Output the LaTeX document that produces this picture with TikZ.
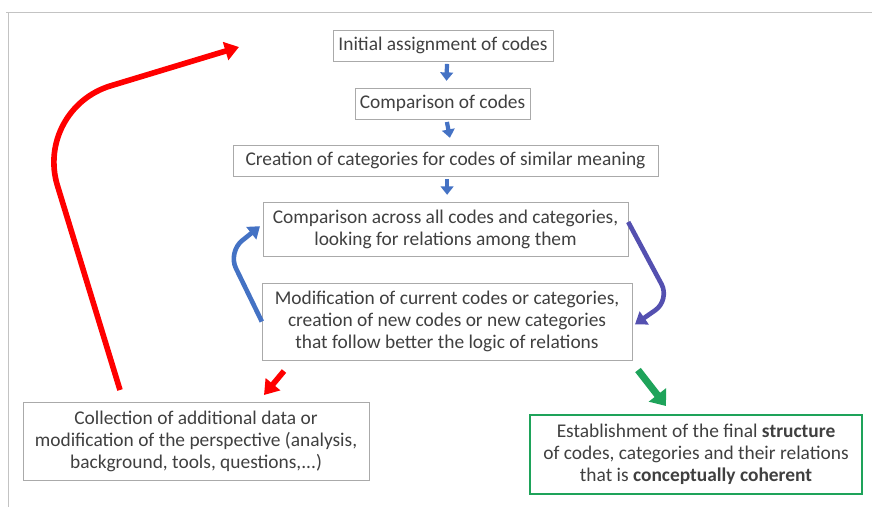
\documentclass[tikz,border=0pt]{standalone}
\usepackage{fontspec}
\setmainfont{Carlito}
\usepackage{tikz}
\usetikzlibrary{arrows.meta}

\definecolor{txtgray}{RGB}{64,64,64}
\definecolor{boxgray}{RGB}{170,170,170}
\definecolor{framegray}{RGB}{195,195,195}
\definecolor{loopblue}{RGB}{68,114,196}
\definecolor{loopviolet}{RGB}{84,80,176}
\definecolor{endgreen}{RGB}{30,163,90}

\tikzset{
    stepbox/.style={draw=boxgray, very thin, fill=white, text=txtgray, align=center,
        inner sep=2pt, font=\fontsize{13.8}{15.6}\selectfont},
    downarrow/.style={loopblue, line width=3pt, -{Triangle[width=9pt, length=6pt]}},
    looparrow/.style={line width=3.3pt, rounded corners=0.45cm, -{Triangle[width=11pt, length=8pt]}},
    bigarrow/.style={line width=4pt, -{Triangle[width=13pt, length=10pt]}}
}

\begin{document}
\begin{tikzpicture}[thick, x=0.025cm, y=-0.025cm]
    \useasboundingbox (0, 0) rectangle (872, 507);

    % frame
    \draw[framegray, thin] (6, 12) -- (872, 12);
    \draw[framegray, thin] (8, 12) -- (8, 507);

    % boxes
    \node[stepbox, minimum width=5.5cm, minimum height=0.775cm] (init) at (443, 45.5) {Initial assignment of codes};
    \node[stepbox, minimum width=4.375cm, minimum height=0.775cm] (comp) at (442.5, 103.5) {Comparison of codes};
    \node[stepbox, minimum width=10.625cm, minimum height=0.775cm] (cat) at (445.5, 160.5) {Creation of categories for codes of similar meaning};
    \node[stepbox, minimum width=9.125cm, minimum height=1.35cm] (across) at (445.5, 229) {Comparison across all codes and categories,\\ looking for relations among them};
    \node[stepbox, minimum width=9.25cm, minimum height=1.925cm] (modif) at (447, 321.5) {Modification of current codes or categories,\\ creation of new codes or new categories\\ that follow better the logic of relations};
    \node[stepbox, minimum width=8.65cm, minimum height=1.95cm] (collect) at (196, 441) {Collection of additional data or\\ modification of the perspective (analysis,\\ background, tools, questions,...)};
    \node[stepbox, draw=endgreen, line width=1.3pt, minimum width=8.3cm, minimum height=1.975cm] (final) at (696, 454.5) {Establishment of the final \textbf{structure}\\ of codes, categories and their relations\\ that is \textbf{conceptually coherent}};

    \coordinate (L1) at (228, 252);  % left bend
    \coordinate (R1) at (670, 300);  % right bend
    \coordinate (C1) at (120, 390);  % red start
    \coordinate (C2) at (34, 109);   % red bend
    \coordinate (C3) at (239, 47);   % red tip
    \coordinate (D1) at (284, 371);
    \coordinate (D2) at (264, 395);
    \coordinate (G1) at (638, 370);
    \coordinate (G2) at (666, 406);

    % down arrows
    \draw[downarrow] ([xshift=0.1cm, yshift=-2pt]init.south) -- ([xshift=0.1cm, yshift=5pt]comp.north);
    \draw[downarrow] ([xshift=0.11cm, yshift=-2pt]comp.south) -- ([xshift=0.11cm, yshift=5pt]cat.north);
    \draw[downarrow] ([xshift=0.04cm, yshift=-2pt]cat.south) -- ([xshift=0.04cm, yshift=5pt]across.north);

    % loop
    \draw[looparrow, loopblue] (modif.west) -- (L1) -- ([xshift=-2pt, yshift=2pt]across.west);
    \draw[looparrow, loopviolet] ([yshift=5pt]across.east) -- (R1) -- ([xshift=2pt, yshift=-2pt]modif.east);

    % way out
    \draw[bigarrow, red, rounded corners=2cm] (C1) -- (C2) -- (C3);
    \draw[bigarrow, red] (D1) -- (D2);
    \draw[bigarrow, endgreen, line width=5pt, -{Triangle[width=15pt, length=10pt]}] (G1) -- (G2);

\end{tikzpicture}
\end{document}
